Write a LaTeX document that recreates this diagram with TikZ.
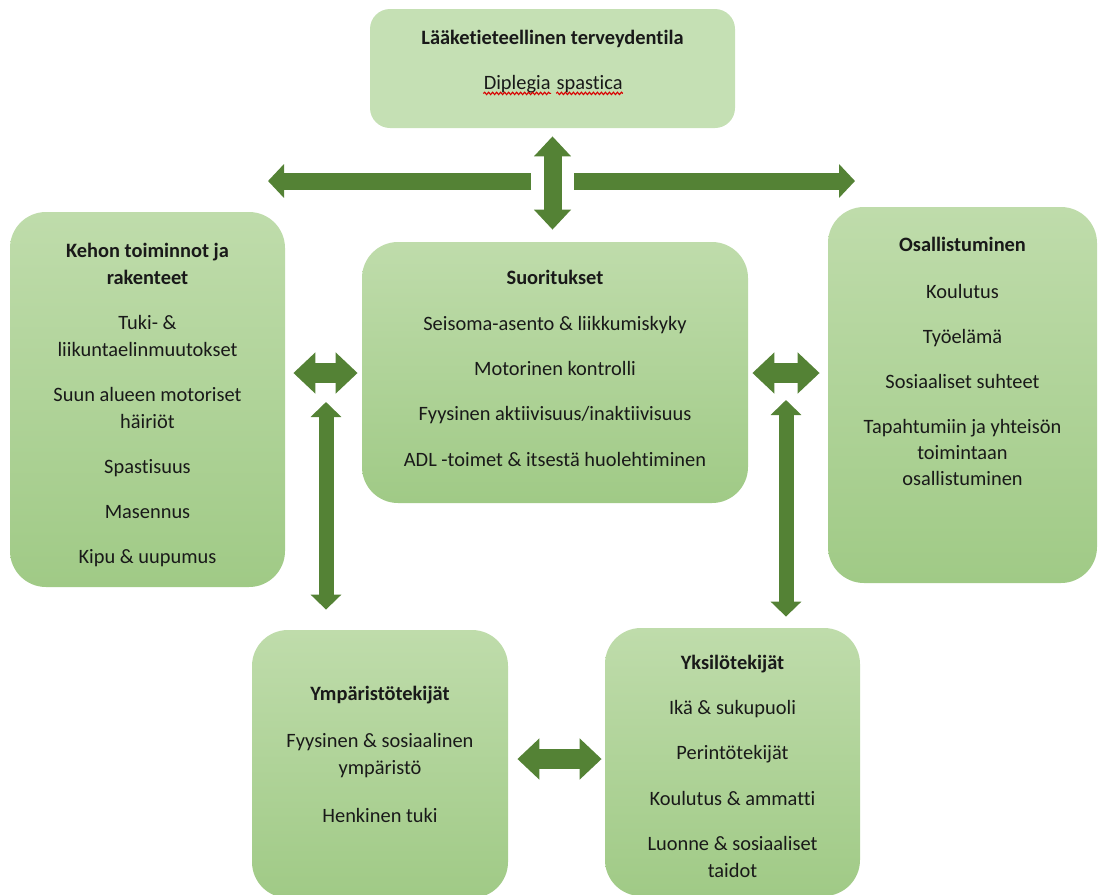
\documentclass[tikz,border=0pt]{standalone}
\usepackage{fontspec}
\setmainfont{Carlito}[Ligatures=NoCommon]
\usepackage{tikz}
\usetikzlibrary{positioning}
\usetikzlibrary{arrows.meta}
\usetikzlibrary{decorations.pathmorphing}
\definecolor{boxtop}{HTML}{BFDCAB}
\definecolor{boxbottom}{HTML}{A0CA86}
\definecolor{plainfill}{HTML}{C5E0B4}
\definecolor{arrowgreen}{HTML}{548235}
\tikzstyle{box}=[rectangle, rounded corners=18pt, inner sep=0pt,
                top color=boxtop, bottom color=boxbottom, draw=none]
\tikzstyle{plain box}=[rectangle, rounded corners=10pt, inner sep=0pt,
                fill=plainfill, draw=none]
\tikzstyle{txt}=[align=center, inner sep=0pt, text=black!90,
                font=\fontsize{10.2}{13.5}\selectfont]
\tikzstyle{hub arrow}=[draw=arrowgreen, line width=9pt,
                >={Triangle[width=18pt,length=10pt]}]
\tikzstyle{wide arrow}=[draw=arrowgreen, line width=8.5pt,
                >={Triangle[width=16.5pt,length=8pt]}]
\tikzstyle{short arrow}=[draw=arrowgreen, line width=10pt,
                >={Triangle[width=20pt,length=11pt]}]
\tikzstyle{long arrow}=[draw=arrowgreen, line width=7.5pt,
                >={Triangle[width=15pt,length=7.5pt]}]
\tikzstyle{spell}=[draw=red!85!black, line width=0.55pt,
                decorate, decoration={snake, segment length=2pt, amplitude=0.6pt}]

\begin{document}
\begin{tikzpicture}[x=0.5pt,y=-0.5pt]
\useasboundingbox (0,0) rectangle (1099,895);

% boxes
\node[plain box, minimum width=182.5pt, minimum height=59.5pt] at (552.5,68.5) (top) {};
\node[box, minimum width=137.5pt, minimum height=187.5pt] at (147.5,399.5) (body) {};
\node[box, minimum width=193pt, minimum height=130.5pt] at (555,372.5) (act) {};
\node[box, minimum width=134.5pt, minimum height=188pt] at (962.5,395) (part) {};
\node[box, minimum width=128pt, minimum height=134pt] at (380,764) (env) {};
\node[box, minimum width=127.5pt, minimum height=134pt] at (732.5,762) (pers) {};

% texts
\node[txt, below=10.5pt of top.north] (topText) {\textbf{Lääketieteellinen terveydentila}};
\node[txt, anchor=base east] at (551,89) (dipl) {Diplegia};
\node[txt, anchor=base west] at ([xshift=2.6pt]dipl.base east) (spas) {spastica};
\draw[spell] ([yshift=-2.2pt]dipl.base west) -- ([yshift=-2.2pt]dipl.base east);
\draw[spell] ([yshift=-2.2pt]spas.base west) -- ([yshift=-2.2pt]spas.base east);

\node[txt, below=15.5pt of body.north] (bodyText) {\textbf{Kehon toiminnot ja}\\\textbf{rakenteet}\\[9pt]
  Tuki- \&\\liikuntaelinmuutokset\\[9pt]Suun alueen motoriset\\häiriöt\\[9pt]
  Spastisuus\\[9pt]Masennus\\[9pt]Kipu \& uupumus};
\node[txt, below=14pt of act.north] (actText) {\textbf{Suoritukset}\\[9.5pt]
  Seisoma-asento \& liikkumiskyky\\[9pt]Motorinen kontrolli\\[9pt]
  Fyysinen aktiivisuus/inaktiivisuus\\[9.5pt]ADL -toimet \& itsestä huolehtiminen};
\node[txt, below=15pt of part.north] (partText) {\textbf{Osallistuminen}\\[10pt]
  Koulutus\\[9pt]Työelämä\\[9pt]Sosiaaliset suhteet\\[9pt]
  Tapahtumiin ja yhteisön\\[-0.5pt]toimintaan\\[-0.5pt]osallistuminen};
\node[txt, below=28pt of env.north] (envText) {\textbf{Ympäristötekijät}\\[10pt]
  Fyysinen \& sosiaalinen\\ympäristö\\[10.5pt]Henkinen tuki};
\node[txt, below=13.5pt of pers.north] (persText) {\textbf{Yksilötekijät}\\[9pt]
  Ikä \& sukupuoli\\[9pt]Perintötekijät\\[9.5pt]Koulutus \& ammatti\\[9pt]
  Luonne \& sosiaaliset\\taidot};

% arrows
\coordinate (hubL) at (531,181);
\coordinate (hubR) at (574,181);
\coordinate (tipL) at (268,181);
\coordinate (tipR) at (855,181);
\coordinate (midL) at (326,373);
\coordinate (midR) at (786,373);
\coordinate (footL) at (326,402);
\coordinate (footR) at (786,400);
\coordinate (midB) at (560,759);

\draw[hub arrow, <->, shorten <=4pt, shorten >=6pt] (top.south) -- (top.south |- act.north);
\draw[wide arrow, ->] (hubL) -- (tipL);
\draw[wide arrow, ->] (hubR) -- (tipR);
\draw[short arrow, <->, shorten <=4pt, shorten >=2pt] (midL -| body.east) -- (midL -| act.west);
\draw[short arrow, <->, shorten <=2pt, shorten >=4pt] (midR -| act.east) -- (midR -| part.west);
\draw[long arrow, <->, shorten >=10pt] (footL) -- (footL |- env.north);
\draw[long arrow, <->, shorten >=5.5pt] (footR) -- (footR |- pers.north);
\draw[short arrow, <->, shorten <=4.5pt, shorten >=1.5pt] (midB -| env.east) -- (midB -| pers.west);
\end{tikzpicture}
\end{document}
